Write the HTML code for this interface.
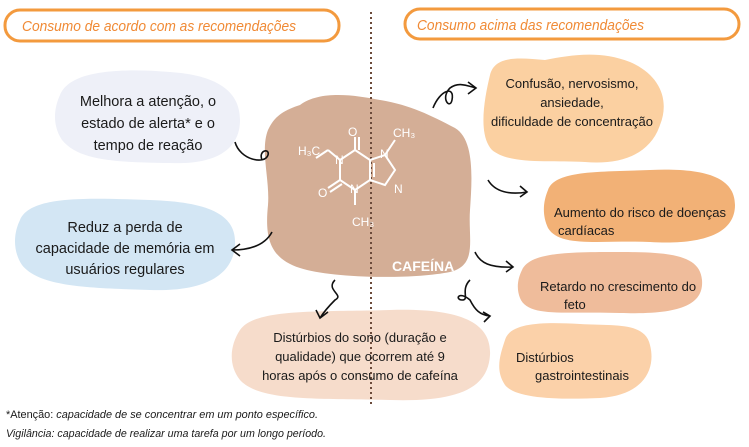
<!DOCTYPE html>
<html><head><meta charset="utf-8"><style>
body{margin:0;background:#fff}
svg{display:block}
text{font-family:"Liberation Sans",sans-serif;fill:#1a1a1a}
</style></head><body>
<svg width="749" height="447" viewBox="0 0 749 447" xmlns="http://www.w3.org/2000/svg">
<!-- headers -->
<rect x="5" y="10" width="334" height="31" rx="15" fill="#fff" stroke="#f39a3e" stroke-width="3"/>
<text x="22" y="31" font-size="15" font-style="italic" textLength="274" lengthAdjust="spacingAndGlyphs" style="fill:#f08a35">Consumo de acordo com as recomendações</text>
<rect x="405" y="9" width="334" height="30" rx="15" fill="#fff" stroke="#f39a3e" stroke-width="3"/>
<text x="417" y="30" font-size="15" font-style="italic" textLength="227" lengthAdjust="spacingAndGlyphs" style="fill:#f08a35">Consumo acima das recomendações</text>

<!-- blobs -->
<path d="M60 95 C70 70 120 68 170 72 C215 75 240 90 240 120 C240 150 215 165 170 163 C120 162 80 162 62 140 C52 125 54 108 60 95Z" fill="#eef0f8"/>
<path d="M20 220 C30 195 90 198 150 200 C210 202 237 215 235 245 C233 275 205 292 150 290 C95 288 40 288 22 265 C12 250 14 232 20 220Z" fill="#d3e6f4"/>
<path d="M240 330 C255 308 320 312 390 310 C455 308 492 320 490 355 C488 390 455 402 390 400 C320 398 260 402 240 380 C228 365 230 345 240 330Z" fill="#f6dccb"/>
<path d="M300 105 C320 90 355 95 380 100 C410 105 430 115 455 128 C475 140 472 180 470 210 C468 240 478 265 450 272 C410 280 330 278 300 268 C268 258 265 235 268 205 C270 180 260 150 268 130 C275 115 285 110 300 105Z" fill="#d4ae96"/>
<path d="M490 75 C495 55 520 58 545 60 C570 55 600 50 630 62 C660 75 670 100 660 125 C650 155 620 165 585 162 C550 160 510 165 492 150 C478 135 484 100 490 75Z" fill="#fbd0a1"/>
<path d="M548 190 C555 170 600 172 650 170 C700 168 735 175 735 205 C735 235 700 245 650 242 C600 240 560 248 548 228 C542 215 543 202 548 190Z" fill="#f2b176"/>
<path d="M522 270 C530 252 570 252 620 252 C670 252 700 255 702 280 C704 305 680 315 620 313 C565 311 528 318 520 298 C516 288 518 278 522 270Z" fill="#efbc9b"/>
<path d="M505 340 C510 322 545 322 580 324 C615 326 645 322 650 345 C656 368 645 395 600 398 C555 400 515 398 505 385 C495 370 500 355 505 340Z" fill="#fbd1a9"/>

<!-- dotted divider -->
<line x1="371" y1="12" x2="371" y2="405" stroke="#6b4a3a" stroke-width="2" stroke-dasharray="2,3"/>

<!-- caffeine molecule -->
<g stroke="#fff" stroke-width="2" fill="none">
<path d="M328 150 L340 160 L340 180 L355 190 L370 180 L370 160 L355 150 L340 160"/>
<path d="M355 150 L355 137"/><path d="M359 150 L359 137"/>
<path d="M340 180 L328 188"/><path d="M342 184 L330 192"/>
<path d="M355 190 L355 205"/>
<path d="M370 160 L385 155 L395 170 L385 185 L370 180"/>
<path d="M374 163 L374 177"/>
<path d="M385 155 L395 140"/>
<path d="M316 158 L328 150"/>
</g>
<g font-size="12" style="fill:#fff">
<text x="348" y="136" style="fill:#fff">O</text>
<text x="318" y="197" style="fill:#fff">O</text>
<text x="335" y="164" style="fill:#fff">N</text>
<text x="350" y="193" style="fill:#fff">N</text>
<text x="380" y="158" style="fill:#fff">N</text>
<text x="394" y="193" style="fill:#fff">N</text>
<text x="298" y="155" style="fill:#fff">H₃C</text>
<text x="393" y="137" style="fill:#fff">CH₃</text>
<text x="352" y="226" style="fill:#fff">CH₃</text>
</g>
<text x="392" y="271" font-size="14" font-weight="bold" style="fill:#fff">CAFEÍNA</text>

<!-- arrows -->
<g stroke="#111" stroke-width="1.6" fill="none">
<path d="M235 142 C240 160 265 165 268 155 C270 148 258 150 262 160"/>
<path d="M272 232 C265 245 250 250 232 250 M240 244 L232 250 L240 256"/>
<path d="M335 280 C325 290 345 295 335 300 C330 305 325 310 320 318 M316 310 L320 318 L328 312"/>
<path d="M433 108 C440 90 455 85 452 100 C450 110 440 98 450 88 C458 82 465 85 476 88 M468 82 L476 88 L468 94"/>
<path d="M488 180 C495 192 510 195 527 192 M520 186 L527 192 L520 197"/>
<path d="M475 252 C480 263 490 268 513 267 M506 261 L513 267 L506 272"/>
<path d="M470 280 C460 290 470 300 462 300 C455 300 458 290 470 300 C475 310 480 315 490 316 M483 312 L490 316 L484 322"/>
</g>

<!-- texts -->
<g font-size="14.5" text-anchor="middle">
<text x="148" y="106">Melhora a atenção, o</text>
<text x="148" y="128">estado de alerta* e o</text>
<text x="148" y="150">tempo de reação</text>
<text x="125" y="232">Reduz a perda de</text>
<text x="125" y="253">capacidade de memória em</text>
<text x="125" y="274">usuários regulares</text>
</g>
<g font-size="13" text-anchor="middle">
<text x="360" y="342">Distúrbios do sono (duração e</text>
<text x="360" y="361">qualidade) que ocorrem até 9</text>
<text x="360" y="380">horas após o consumo de cafeína</text>
<text x="572" y="88">Confusão, nervosismo,</text>
<text x="572" y="107">ansiedade,</text>
<text x="572" y="126">dificuldade de concentração</text>
</g>
<g font-size="13">
<text x="554" y="217">Aumento do risco de doenças</text>
<text x="558" y="235">cardíacas</text>
<text x="540" y="291">Retardo no crescimento do</text>
<text x="564" y="309">feto</text>
<text x="516" y="362">Distúrbios</text>
<text x="535" y="380">gastrointestinais</text>
</g>
<g font-size="11">
<text x="6" y="418" textLength="312" lengthAdjust="spacingAndGlyphs">*Atenção: <tspan font-style="italic">capacidade de se concentrar em um ponto específico.</tspan></text>
<text x="6" y="437" font-style="italic" textLength="320" lengthAdjust="spacingAndGlyphs">Vigilância: capacidade de realizar uma tarefa por um longo período.</text>
</g>
</svg>
</body></html>
